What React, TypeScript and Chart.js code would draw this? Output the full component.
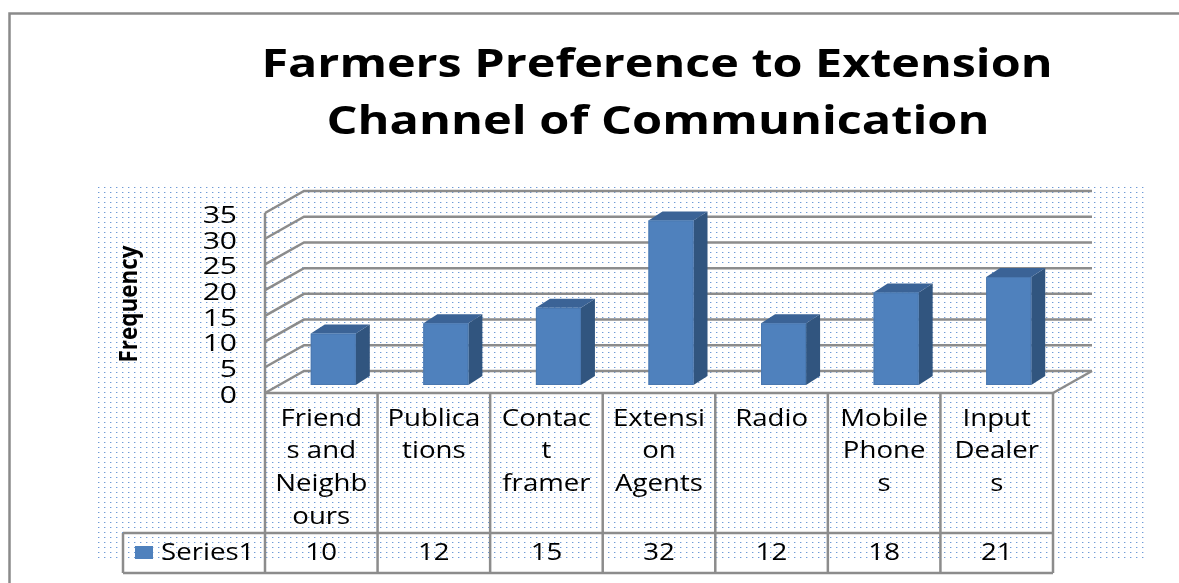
import React, { useEffect, useRef } from "react";
import { Chart, registerables } from "chart.js";

Chart.register(...registerables);

// ---------- data ----------
const titleLines = ["Farmers Preference to Extension", "Channel of Communication"];
const yAxisTitle = "Frequency";
const seriesName = "Series1";
const categories: string[][] = [
  ["Friend", "s and", "Neighb", "ours"],
  ["Publica", "tions"],
  ["Contac", "t", "framer"],
  ["Extensi", "on", "Agents"],
  ["Radio"],
  ["Mobile", "Phone", "s"],
  ["Input", "Dealer", "s"],
];
const values: number[] = [10, 12, 15, 32, 12, 18, 21];
const yTicks: number[] = [0, 5, 10, 15, 20, 25, 30, 35];

// ---------- styling / geometry ----------
const W = 1179;
const H = 583;
const WALL_DEPTH = { x: 39, y: -22 };
const BAR_OFFSET = { x: 12, y: -8 };
const BAR_DEPTH = { x: 14, y: -9 };
const GRID_COLOR = "#8c8c8c";
const TEXT_SX = 1.2;
const FONT = '"Open Sans", "Liberation Sans", sans-serif';

function drawText(
  ctx: CanvasRenderingContext2D,
  text: string,
  x: number,
  y: number,
  font: string,
  align: CanvasTextAlign,
  sx: number
) {
  ctx.save();
  ctx.font = font;
  ctx.textAlign = align;
  ctx.textBaseline = "middle";
  ctx.fillStyle = "#000";
  ctx.translate(x, y);
  ctx.scale(sx, 1);
  ctx.fillText(text, 0, 0);
  ctx.restore();
}

function fitSx(ctx: CanvasRenderingContext2D, text: string, font: string, target: number) {
  ctx.save();
  ctx.font = font;
  const w = ctx.measureText(text).width;
  ctx.restore();
  return w > 0 ? target / w : 1;
}

function makeDotPattern(ctx: CanvasRenderingContext2D) {
  const c = document.createElement("canvas");
  c.width = 6;
  c.height = 5;
  const p = c.getContext("2d")!;
  p.fillStyle = "#ffffff";
  p.fillRect(0, 0, 6, 5);
  p.fillStyle = "#c9d9f0";
  p.fillRect(2, 2, 2, 1);
  p.fillStyle = "#6f9bd6";
  p.fillRect(2, 2, 1, 1);
  return ctx.createPattern(c, "repeat");
}

const threeDPlugin = {
  id: "threeD",
  beforeDatasetsDraw(chart: any) {
    const ctx: CanvasRenderingContext2D = chart.ctx;
    const { left, right, top, bottom } = chart.chartArea;
    const ys = chart.scales.y;
    ctx.save();
    ctx.fillStyle = "#fff";
    ctx.fillRect(0, 0, W, H);
    ctx.strokeStyle = "#8a8a8a";
    ctx.lineWidth = 2.5;
    ctx.beginPath();
    ctx.moveTo(9.5, H + 2);
    ctx.lineTo(9.5, 13.5);
    ctx.lineTo(W + 2, 13.5);
    ctx.stroke();
    const pat = makeDotPattern(ctx);
    if (pat) {
      ctx.fillStyle = pat;
      ctx.fillRect(95, 184, 1148 - 95, 561 - 184);
    }
    ctx.strokeStyle = GRID_COLOR;
    ctx.lineWidth = 2.5;
    ctx.lineJoin = "miter";
    for (const v of yTicks) {
      const y = ys.getPixelForValue(v);
      ctx.beginPath();
      ctx.moveTo(left, y);
      ctx.lineTo(left + WALL_DEPTH.x, y + WALL_DEPTH.y);
      ctx.lineTo(right + WALL_DEPTH.x, y + WALL_DEPTH.y);
      ctx.stroke();
    }
    ctx.beginPath();
    ctx.moveTo(left, top);
    ctx.lineTo(left, bottom);
    ctx.stroke();
    ctx.beginPath();
    ctx.moveTo(right, bottom);
    ctx.lineTo(right + WALL_DEPTH.x, bottom + WALL_DEPTH.y);
    ctx.stroke();
    ctx.restore();
  },
  afterDatasetsDraw(chart: any) {
    const ctx: CanvasRenderingContext2D = chart.ctx;
    const meta = chart.getDatasetMeta(0);
    ctx.save();
    meta.data.forEach((bar: any) => {
      const x0 = bar.x - bar.width / 2 + BAR_OFFSET.x;
      const x1 = bar.x + bar.width / 2 + BAR_OFFSET.x;
      const y0 = bar.y + BAR_OFFSET.y;
      const y1 = bar.base + BAR_OFFSET.y;
      const dx = BAR_DEPTH.x;
      const dy = BAR_DEPTH.y;
      ctx.fillStyle = "#31557f";
      ctx.beginPath();
      ctx.moveTo(x1, y0);
      ctx.lineTo(x1 + dx, y0 + dy);
      ctx.lineTo(x1 + dx, y1 + dy);
      ctx.lineTo(x1, y1);
      ctx.closePath();
      ctx.fill();
      ctx.fillStyle = "#3b6396";
      ctx.beginPath();
      ctx.moveTo(x0, y0);
      ctx.lineTo(x0 + dx, y0 + dy);
      ctx.lineTo(x1 + dx, y0 + dy);
      ctx.lineTo(x1, y0);
      ctx.closePath();
      ctx.fill();
      ctx.fillStyle = "#4f81bd";
      ctx.fillRect(x0, y0, x1 - x0, y1 - y0);
      ctx.strokeStyle = "#4a78b0";
      ctx.lineWidth = 1;
      ctx.strokeRect(x0 + 0.5, y0 + 0.5, x1 - x0 - 1, y1 - y0 - 1);
    });
    ctx.restore();
  },
  afterDraw(chart: any) {
    const ctx: CanvasRenderingContext2D = chart.ctx;
    const { left, right, bottom } = chart.chartArea;
    const xs = chart.scales.x;
    const ys = chart.scales.y;
    const n = categories.length;
    const catW = (right - left) / n;
    const rowTop = bottom;
    const rowMid = 533;
    const rowBot = 573;
    const legendLeft = 123;

    ctx.save();
    ctx.strokeStyle = GRID_COLOR;
    ctx.lineWidth = 2.5;
    ctx.beginPath();
    ctx.moveTo(left, rowTop);
    ctx.lineTo(right, rowTop);
    ctx.moveTo(legendLeft, rowMid);
    ctx.lineTo(right, rowMid);
    ctx.moveTo(legendLeft, rowBot);
    ctx.lineTo(right, rowBot);
    ctx.moveTo(legendLeft, rowMid);
    ctx.lineTo(legendLeft, rowBot);
    for (let i = 0; i <= n; i++) {
      const x = left + i * catW;
      ctx.moveTo(x, rowTop);
      ctx.lineTo(x, rowBot);
    }
    ctx.stroke();
    ctx.restore();

    for (const v of yTicks) {
      drawText(ctx, String(v), 237, ys.getPixelForValue(v) + 3, `24px ${FONT}`, "right", 1.25);
    }

    categories.forEach((lines, i) => {
      const cx = xs.getPixelForValue(i);
      lines.forEach((ln, j) => {
        drawText(ctx, ln, cx, 419 + j * 32.7, `23px ${FONT}`, "center", TEXT_SX);
      });
      drawText(ctx, String(values[i]), cx, 553, `23px ${FONT}`, "center", TEXT_SX);
    });

    ctx.fillStyle = "#4f81bd";
    ctx.fillRect(135, 546, 18, 13);
    drawText(ctx, seriesName, 161, 553, `23px ${FONT}`, "left", TEXT_SX);

    const tFont = `bold 40px ${FONT}`;
    const sx1 = fitSx(ctx, titleLines[0], tFont, 791);
    const sx2 = fitSx(ctx, titleLines[1], tFont, 663);
    drawText(ctx, titleLines[0], 657, 66, tFont, "center", sx1);
    drawText(ctx, titleLines[1], 658, 123, tFont, "center", sx2);

    const yFont = `bold 25px ${FONT}`;
    const sxy = fitSx(ctx, yAxisTitle, yFont, 117);
    ctx.save();
    ctx.translate(130, 304);
    ctx.rotate(-Math.PI / 2);
    drawText(ctx, yAxisTitle, 0, 0, yFont, "center", sxy);
    ctx.restore();
  },
};

export default function App() {
  const ref = useRef<HTMLCanvasElement | null>(null);
  useEffect(() => {
    if (!ref.current) return;
    const chart = new Chart(ref.current, {
      type: "bar",
      data: {
        labels: categories.map((c) => c.join("")),
        datasets: [
          {
            label: seriesName,
            data: values,
            backgroundColor: "rgba(0,0,0,0)",
            borderWidth: 0,
            barPercentage: 0.4,
            categoryPercentage: 1,
          },
        ],
      },
      options: {
        animation: false,
        responsive: false,
        devicePixelRatio: 1,
        layout: { padding: { left: 265, right: W - 1053, top: 213, bottom: H - 393 } },
        plugins: { legend: { display: false }, tooltip: { enabled: false }, title: { display: false } },
        scales: {
          x: { display: false, offset: true },
          y: { display: false, min: 0, max: 35, ticks: { stepSize: 5 } },
        },
      },
      plugins: [threeDPlugin],
    });
    return () => chart.destroy();
  }, []);
  return (
    <div style={{ position: "fixed", left: 0, top: 0, width: W, height: H, background: "#fff" }}>
      <canvas ref={ref} width={W} height={H} style={{ display: "block" }} />
    </div>
  );
}
